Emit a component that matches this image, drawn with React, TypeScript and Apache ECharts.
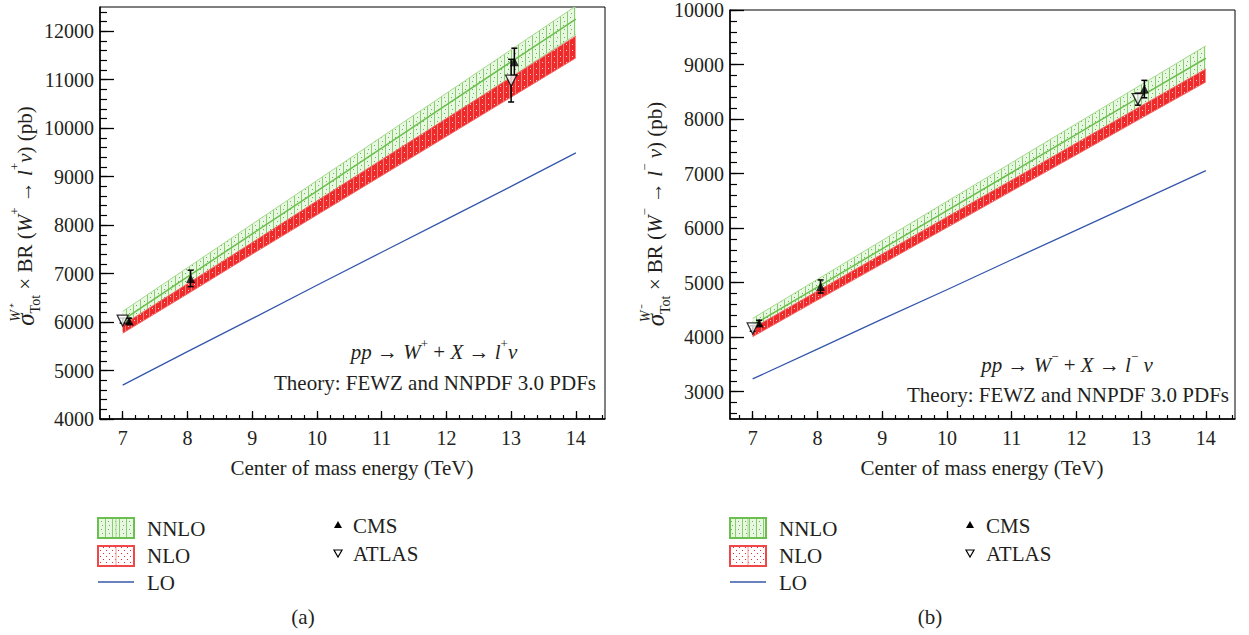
import React, { useEffect, useRef } from 'react';
import * as echarts from 'echarts';

// ---------------- data ----------------
const energies = [7, 8, 9, 10, 11, 12, 13, 14];

// panel (a): W+
const wpNnloCentral = [6040, 6930, 7820, 8700, 9590, 10480, 11370, 12250];
const wpNnloUpper = [6220, 7120, 8020, 8920, 9820, 10720, 11620, 12520];
const wpNnloLower = [5850, 6720, 7590, 8460, 9330, 10190, 11060, 11930];
const wpNloUpper = [5940, 6790, 7640, 8500, 9350, 10200, 11050, 11900];
const wpNloLower = [5770, 6580, 7400, 8210, 9020, 9830, 10640, 11450];
const wpLo = [4700, 5390, 6070, 6760, 7440, 8120, 8800, 9490];
// [energy, value, uncertainty]
const wpCms = [[7.1, 6020, 60], [8.05, 6900, 170], [13.05, 11370, 280]];
const wpAtlas = [[7.0, 6030, 50], [13.0, 10980, 440]];

// panel (b): W-
const wmNnloCentral = [4220, 4920, 5620, 6320, 7020, 7720, 8420, 9115];
const wmNnloUpper = [4345, 5060, 5775, 6490, 7200, 7915, 8630, 9345];
const wmNnloLower = [4075, 4760, 5450, 6140, 6830, 7515, 8205, 8890];
const wmNloUpper = [4165, 4845, 5525, 6205, 6880, 7560, 8240, 8920];
const wmNloLower = [4010, 4680, 5345, 6010, 6680, 7345, 8015, 8680];
const wmLo = [3235, 3780, 4330, 4870, 5420, 5965, 6510, 7055];
const wmCms = [[7.1, 4260, 50], [8.05, 4930, 120], [13.05, 8550, 160]];
const wmAtlas = [[7.0, 4160, 50], [12.95, 8365, 110]];

// axes
const xMin = 6.65;
const xMax = 14.45;
const xMajor = [7, 8, 9, 10, 11, 12, 13, 14];
const yMajorA = [4000, 5000, 6000, 7000, 8000, 9000, 10000, 11000, 12000];
const yRangeA = [4000, 12500];
const yMajorB = [3000, 4000, 5000, 6000, 7000, 8000, 9000, 10000];
const yRangeB = [2500, 10000];

const FONT = "'Liberation Serif', 'Times New Roman', serif";
const TXT = '#231f20';
const GREEN = '#6cbf4e';
const GREEN_LIGHT = '#a6db8f';
const RED = '#ee2a2a';
const BLUE = '#3457ad';

function minorList(lo: number, hi: number, step: number) {
  const out: number[] = [];
  const n = Math.round((hi - lo) / step);
  for (let i = 0; i <= n; i++) out.push(+(lo + i * step).toFixed(4));
  return out;
}

function makePattern(w: number, h: number, draw: (c: CanvasRenderingContext2D) => void) {
  const c = document.createElement('canvas');
  c.width = w;
  c.height = h;
  const ctx = c.getContext('2d') as CanvasRenderingContext2D;
  draw(ctx);
  return { image: c.toDataURL(), repeat: 'repeat', imageWidth: w, imageHeight: h };
}

const pair = (xs: number[], ys: number[]) => xs.map((x, i) => [x, ys[i]]);

function errRender(params: any, api: any) {
  const x = api.value(0);
  const y = api.value(1);
  const e = api.value(2);
  const top = api.coord([x, y + e]);
  const bot = api.coord([x, y - e]);
  const cw = 3;
  const style = { stroke: '#000', lineWidth: 1.5 };
  return {
    type: 'group',
    children: [
      { type: 'line', shape: { x1: top[0], y1: top[1], x2: bot[0], y2: bot[1] }, style },
      { type: 'line', shape: { x1: top[0] - cw, y1: top[1], x2: top[0] + cw, y2: top[1] }, style },
      { type: 'line', shape: { x1: bot[0] - cw, y1: bot[1], x2: bot[0] + cw, y2: bot[1] }, style },
    ],
  };
}

function bandRender(fill: any, edge: string) {
  return (params: any, api: any) => {
    if (params.dataIndexInside !== 0) return null;
    const n = params.dataInsideLength;
    const top: number[][] = [];
    const bot: number[][] = [];
    for (let j = 0; j < n; j++) {
      const x = api.value(0, j);
      bot.push(api.coord([x, api.value(1, j)]));
      top.push(api.coord([x, api.value(2, j)]));
    }
    const poly = top.concat(bot.slice().reverse());
    return {
      type: 'group',
      children: [
        { type: 'polygon', shape: { points: poly }, style: { fill, stroke: null } },
        { type: 'polyline', shape: { points: top }, style: { stroke: edge, lineWidth: 1, fill: null } },
        { type: 'polyline', shape: { points: bot }, style: { stroke: edge, lineWidth: 1, fill: null } },
      ],
    };
  };
}

export default function App() {
  const ref = useRef<HTMLDivElement>(null);

  useEffect(() => {
    if (!ref.current) return;
    const chart = echarts.init(ref.current, null, { renderer: 'svg' });

    const greenPat = makePattern(7, 8, (c) => {
      c.clearRect(0, 0, 7, 8);
      c.fillStyle = 'rgba(205,238,190,0.45)';
      c.fillRect(0, 0, 7, 8);
      c.fillStyle = 'rgba(120,198,92,0.85)';
      c.fillRect(0, 0, 1, 8);
      c.fillStyle = 'rgba(95,180,70,0.95)';
      c.fillRect(3, 1, 1, 1);
      c.fillRect(4, 5, 1, 1);
    });
    const redPat = makePattern(6, 6, (c) => {
      c.fillStyle = RED;
      c.fillRect(0, 0, 6, 6);
      c.fillStyle = 'rgb(248,120,120)';
      c.fillRect(5, 0, 1, 6);
      c.fillStyle = '#ffd6d6';
      c.fillRect(2, 2, 1, 1);
    });
    const redLegPat = makePattern(6, 6, (c) => {
      c.fillStyle = '#ffffff';
      c.fillRect(0, 0, 6, 6);
      c.fillStyle = RED;
      c.fillRect(1, 1, 1, 1);
      c.fillRect(4, 4, 1, 1);
    });

    const grids = [
      { left: 100, top: 7, width: 505, height: 412 },
      { left: 730, top: 7, width: 505, height: 412 },
    ];

    const xMinor = minorList(6.8, 14.4, 0.2);
    const yMinorA = minorList(4000, 12400, 200);
    const yMinorB = minorList(2600, 10000, 200);

    const xAxes: any[] = [];
    const yAxes: any[] = [];
    [0, 1].forEach((g) => {
      xAxes.push({
        type: 'value', gridIndex: g, min: xMin, max: xMax, position: 'bottom',
        axisLine: { show: true, lineStyle: { color: '#000', width: 1.5 } },
        axisTick: { show: true, inside: true, length: 8, customValues: xMajor, lineStyle: { color: '#000', width: 1.3 } },
        axisLabel: { customValues: xMajor, formatter: (v: number) => String(v), fontFamily: FONT, fontSize: 20, color: TXT, margin: 9 },
        splitLine: { show: false },
      });
      xAxes.push({
        type: 'value', gridIndex: g, min: xMin, max: xMax, position: 'bottom',
        axisLine: { show: false },
        axisTick: { show: true, inside: true, length: 4, customValues: xMinor, lineStyle: { color: '#000', width: 1.2 } },
        axisLabel: { show: false },
        splitLine: { show: false },
      });
      const majors = g === 0 ? yMajorA : yMajorB;
      const range = g === 0 ? yRangeA : yRangeB;
      const minors = g === 0 ? yMinorA : yMinorB;
      yAxes.push({
        type: 'value', gridIndex: g, min: range[0], max: range[1], position: 'left',
        axisLine: { show: true, lineStyle: { color: '#000', width: 1.5 } },
        axisTick: { show: true, inside: true, length: 14, customValues: majors, lineStyle: { color: '#000', width: 1.3 } },
        axisLabel: { customValues: majors, formatter: (v: number) => String(v), fontFamily: FONT, fontSize: 20, color: TXT, margin: 6 },
        splitLine: { show: false },
      });
      yAxes.push({
        type: 'value', gridIndex: g, min: range[0], max: range[1], position: 'left',
        axisLine: { show: false },
        axisTick: { show: true, inside: true, length: 7, customValues: minors, lineStyle: { color: '#000', width: 1.2 } },
        axisLabel: { show: false },
        splitLine: { show: false },
      });
    });

    const panels = [
      { nc: wpNnloCentral, nu: wpNnloUpper, nl: wpNnloLower, ru: wpNloUpper, rl: wpNloLower, lo: wpLo, cms: wpCms, atlas: wpAtlas },
      { nc: wmNnloCentral, nu: wmNnloUpper, nl: wmNnloLower, ru: wmNloUpper, rl: wmNloLower, lo: wmLo, cms: wmCms, atlas: wmAtlas },
    ];

    const series: any[] = [];
    panels.forEach((p, g) => {
      const ax = { xAxisIndex: 2 * g, yAxisIndex: 2 * g };
      const base = { type: 'line', symbol: 'none', silent: true, ...ax };
      series.push({ type: 'custom', name: 'NNLO ' + g, ...ax, clip: true, silent: true, z: 2,
        data: energies.map((x, i) => [x, p.nl[i], p.nu[i]]), renderItem: bandRender(greenPat, GREEN_LIGHT) });
      series.push({ type: 'custom', name: 'NLO ' + g, ...ax, clip: true, silent: true, z: 3,
        data: energies.map((x, i) => [x, p.rl[i], p.ru[i]]), renderItem: bandRender(redPat, '#f26a6a') });
      series.push({ ...base, name: 'NNLO central ' + g, data: pair(energies, p.nc), lineStyle: { color: GREEN, width: 1.5 }, z: 4 });
      series.push({ ...base, name: 'LO ' + g, data: pair(energies, p.lo), lineStyle: { color: BLUE, width: 1.3 }, z: 4 });
      series.push({ type: 'custom', name: 'err ' + g, ...ax, renderItem: errRender, data: [...p.cms, ...p.atlas], z: 5, silent: true });
      series.push({ type: 'scatter', name: 'CMS ' + g, ...ax, data: p.cms.map((d) => [d[0], d[1]]), symbol: 'triangle', symbolSize: 9, itemStyle: { color: '#000' }, z: 6, silent: true });
      series.push({ type: 'scatter', name: 'ATLAS ' + g, ...ax, data: p.atlas.map((d) => [d[0], d[1]]), symbol: 'triangle', symbolRotate: 180, symbolSize: 11, itemStyle: { color: '#fff', borderColor: '#000', borderWidth: 1.3 }, z: 6, silent: true });
    });

    const richBase = {
      s: { fontFamily: FONT, fontSize: 25, fontStyle: 'italic', lineHeight: 34, color: TXT },
      p: { fontFamily: FONT, fontSize: 14, fontStyle: 'italic', lineHeight: 15, verticalAlign: 'top', width: 0, color: TXT },
      b: { fontFamily: FONT, fontSize: 14, lineHeight: 19, verticalAlign: 'bottom', color: TXT },
      m: { fontFamily: FONT, fontSize: 21, lineHeight: 34, color: TXT },
      iw: { fontFamily: FONT, fontSize: 21, fontStyle: 'italic', lineHeight: 34, color: TXT },
      q: { fontFamily: FONT, fontSize: 13, lineHeight: 17, verticalAlign: 'top', color: TXT },
    };
    const annRich = {
      m: { fontFamily: FONT, fontSize: 21, lineHeight: 30, color: TXT },
      i: { fontFamily: FONT, fontSize: 21, fontStyle: 'italic', lineHeight: 30, color: TXT },
      q: { fontFamily: FONT, fontSize: 13, lineHeight: 15, verticalAlign: 'top', color: TXT },
    };

    const txt = (x: number, y: number, text: string, align = 'left', extra: any = {}) => ({
      type: 'text', x, y, silent: true,
      style: { text, fontFamily: FONT, fontSize: 21, fill: TXT, align, textAlign: align, verticalAlign: 'middle', textVerticalAlign: 'middle', ...extra },
    });

    const graphics: any[] = [
      // y titles
      { type: 'text', x: 25, y: 216, rotation: Math.PI / 2, silent: true,
        style: { text: '{s|σ}{p|W⁺}{b|Tot}{m| × BR (}{iw|W}{q|+}{m| → }{iw|l}{q|+}{iw|ν}{m|) (pb)}', rich: richBase, align: 'center', textAlign: 'center', verticalAlign: 'middle', textVerticalAlign: 'middle', fill: TXT } },
      { type: 'text', x: 655, y: 214, rotation: Math.PI / 2, silent: true,
        style: { text: '{s|σ}{p|W⁻}{b|Tot}{m| × BR (}{iw|W}{q|−}{m| → }{iw|l}{q|−}{m| }{iw|ν}{m|) (pb)}', rich: richBase, align: 'center', textAlign: 'center', verticalAlign: 'middle', textVerticalAlign: 'middle', fill: TXT } },
      // x titles
      txt(352, 468, 'Center of mass energy (TeV)', 'center'),
      txt(982, 468, 'Center of mass energy (TeV)', 'center'),
      // annotations
      txt(434, 352, '{i|pp}{m| → }{i|W}{q|+}{m| + }{i|X}{m| → }{i|l}{q|+}{i|ν}', 'center', { rich: annRich }),
      txt(596, 383, 'Theory: FEWZ and NNPDF 3.0 PDFs', 'right'),
      txt(1067, 365, '{i|pp}{m| → }{i|W}{q|−}{m| + }{i|X}{m| → }{i|l}{q|−}{m| }{i|ν}', 'center', { rich: annRich }),
      txt(1229, 395, 'Theory: FEWZ and NNPDF 3.0 PDFs', 'right'),
      // panel labels
      txt(303, 617, '(a)', 'center'),
      txt(930, 617, '(b)', 'center'),
    ];

    const legendAt = (bx: number, tx: number, mx: number, mtx: number) => {
      graphics.push({ type: 'rect', shape: { x: bx, y: 518, width: 36, height: 20 }, style: { fill: greenPat, stroke: GREEN, lineWidth: 2 }, silent: true });
      graphics.push({ type: 'line', shape: { x1: bx + 18, y1: 519, x2: bx + 18, y2: 537 }, style: { stroke: GREEN_LIGHT, lineWidth: 1 }, silent: true });
      graphics.push({ type: 'rect', shape: { x: bx, y: 546, width: 36, height: 20 }, style: { fill: redLegPat, stroke: '#f04848', lineWidth: 2 }, silent: true });
      graphics.push({ type: 'line', shape: { x1: bx + 18, y1: 547, x2: bx + 18, y2: 565 }, style: { stroke: '#f49a9a', lineWidth: 1 }, silent: true });
      graphics.push({ type: 'line', shape: { x1: bx, y1: 582, x2: bx + 36, y2: 582 }, style: { stroke: BLUE, lineWidth: 1.3 }, silent: true });
      graphics.push(txt(tx, 529, 'NNLO'));
      graphics.push(txt(tx, 556, 'NLO'));
      graphics.push(txt(tx, 583, 'LO'));
      graphics.push({ type: 'polygon', shape: { points: [[mx, 521], [mx - 4, 528], [mx + 4, 528]] }, style: { fill: '#000' }, silent: true });
      graphics.push({ type: 'polygon', shape: { points: [[mx - 4, 550], [mx + 4, 550], [mx, 557]] }, style: { fill: '#fff', stroke: '#000', lineWidth: 1.2 }, silent: true });
      graphics.push(txt(mtx, 526, 'CMS'));
      graphics.push(txt(mtx, 554, 'ATLAS'));
    };
    legendAt(98, 147, 338, 353);
    legendAt(730, 779, 970, 986);

    chart.setOption({
      animation: false,
      backgroundColor: '#fff',
      grid: grids.map((g) => ({ ...g, show: true, borderColor: '#000', borderWidth: 1, backgroundColor: 'transparent' })),
      xAxis: xAxes,
      yAxis: yAxes,
      series,
      graphic: { elements: graphics },
    });

    return () => chart.dispose();
  }, []);

  return <div ref={ref} style={{ position: 'fixed', left: 0, top: 0, width: 1249, height: 635, background: '#fff' }} />;
}
